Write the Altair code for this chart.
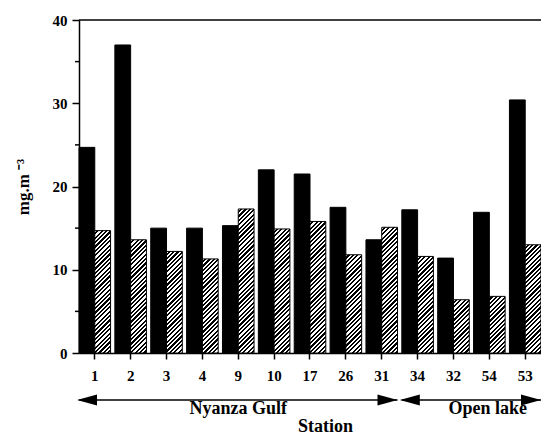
import altair as alt
import pandas as pd

# ---------------- data ----------------
stations = ["1", "2", "3", "4", "9", "10", "17", "26", "31", "34", "32", "54", "53"]
black_vals = [24.7, 37.0, 15.0, 15.0, 15.3, 22.0, 21.5, 17.5, 13.6, 17.2, 11.4, 16.9, 30.4]
hatched_vals = [14.7, 13.6, 12.2, 11.3, 17.3, 14.9, 15.8, 11.8, 15.1, 11.6, 6.4, 6.8, 13.0]
series_names = ["A", "B"]

regions = ["Nyanza Gulf", "Open lake"]
region_first = ["1", "34"]
region_last = ["31", "53"]
region_label_at = ["9", "54"]
region_label_band = [0.5, 0.45]

y_major = [0, 10, 20, 30, 40]
y_minor = [5, 15, 25, 35]
y_top = [40]

# ---------------- layout / style ----------------
W, H = 462, 333
YMAX = 40
PAD_INNER = 0.12
FONT = "Liberation Serif"
PERIOD = 4.4  # hatch period in px (along x+y)
ARROW_Y = 380
LABEL_Y = 394

n = len(stations)
df = pd.DataFrame({
    "station": stations * 2,
    "series": [series_names[0]] * n + [series_names[1]] * n,
    "value": black_vals + hatched_vals,
})

step = W / (n - PAD_INNER)
bar_w = step * (1 - PAD_INNER) / 2


def hatch(val):
    h = val / YMAX * H
    w = bar_w
    L = w + h
    k = L / (w * w + h * h)
    stops = []
    i = 0
    while i * PERIOD < L:
        a = round(i * PERIOD / L, 5)
        b = round(min((i + 0.5) * PERIOD / L, 1), 5)
        c = round(min((i + 1) * PERIOD / L, 1), 5)
        stops += [
            {"offset": a, "color": "#ffffff"},
            {"offset": b, "color": "#ffffff"},
            {"offset": b, "color": "#000000"},
            {"offset": c, "color": "#000000"},
        ]
        i += 1
    return {"gradient": "linear", "x1": 0, "y1": 0,
            "x2": round(k * w, 6), "y2": round(k * h, 6), "stops": stops}


conds = [{"test": "datum.series === 'A'", "value": "#000000"}]
for s, v in zip(stations, hatched_vals):
    conds.append({"test": f"datum.series === 'B' && datum.station === '{s}'",
                  "value": hatch(v)})
fill = {"condition": conds, "value": "#ffffff"}

xscale = alt.Scale(domain=stations, paddingInner=PAD_INNER, paddingOuter=0)
yscale = alt.Scale(domain=[0, YMAX], nice=False, zero=True)

x_axis = alt.Axis(title="Station", titleX=246, titleY=78,
                  titleBaseline="alphabetic", titleFont=FONT,
                  titleFontSize=18, titleFontWeight="bold",
                  titleColor="black", labelAngle=0, labelFont=FONT,
                  labelFontSize=15, labelFontWeight="bold",
                  labelColor="black", labelPadding=9, tickSize=6,
                  tickColor="black", tickWidth=1.5, domainColor="black",
                  domainWidth=1.5, grid=False)
y_axis = alt.Axis(values=y_major, title="mg.m ⁻³", titleFont=FONT,
                  titleFontSize=17, titleFontWeight="bold",
                  titleColor="black", titlePadding=20, labelFont=FONT,
                  labelFontSize=15, labelFontWeight="bold",
                  labelColor="black", labelPadding=5, tickSize=7,
                  tickColor="black", tickWidth=1.5, domainColor="black",
                  domainWidth=1.5, grid=False)

bars = alt.Chart(df).mark_bar(stroke="black", strokeWidth=1).encode(
    x=alt.X("station:N", sort=stations, scale=xscale, axis=x_axis),
    xOffset=alt.XOffset("series:N", scale=alt.Scale(domain=series_names,
                                                    paddingInner=0, paddingOuter=0)),
    y=alt.Y("value:Q", scale=yscale, axis=y_axis),
    fill=fill,
)

minor = alt.Chart(pd.DataFrame({"value": y_minor})).mark_rule(
    color="black", strokeWidth=1.5).encode(
    y=alt.Y("value:Q", scale=yscale, axis=y_axis),
    x=alt.value(-4), x2=alt.value(0))

top = alt.Chart(pd.DataFrame({"value": y_top})).mark_rule(
    color="black", strokeWidth=1.5).encode(
    y=alt.Y("value:Q", scale=yscale, axis=y_axis),
    x=alt.value(0), x2=alt.value(W))

rdf = pd.DataFrame({"region": regions, "station": region_first, "last": region_last})

line = alt.Chart(rdf).mark_rule(color="black", strokeWidth=1.5).encode(
    x=alt.X("station:N", scale=xscale, bandPosition=0, axis=x_axis),
    x2=alt.X2("last:N", bandPosition=1),
    y=alt.value(ARROW_Y))

lheads = alt.Chart(rdf).mark_point(
    shape="M0,0L2,-0.55L2,0.55Z", filled=True, size=400, color="black",
    opacity=1, strokeWidth=0, xOffset=-2).encode(
    x=alt.X("station:N", scale=xscale, bandPosition=0, axis=x_axis),
    y=alt.value(ARROW_Y))

rdf2 = pd.DataFrame({"region": regions, "station": region_last})
rheads = alt.Chart(rdf2).mark_point(
    shape="M0,0L-2,-0.55L-2,0.55Z", filled=True, size=400, color="black",
    opacity=1, strokeWidth=0).encode(
    x=alt.X("station:N", scale=xscale, bandPosition=1, axis=x_axis),
    y=alt.value(ARROW_Y))

labels = []
for reg, at, bp in zip(regions, region_label_at, region_label_band):
    labels.append(
        alt.Chart(pd.DataFrame({"region": [reg], "station": [at]})).mark_text(
            font=FONT, fontSize=18, fontWeight="bold", color="black",
            baseline="alphabetic", align="center").encode(
            x=alt.X("station:N", scale=xscale, bandPosition=bp, axis=x_axis),
            y=alt.value(LABEL_Y),
            text="region:N"))

chart = alt.layer(bars, minor, top, line, lheads, rheads, *labels).properties(
    width=W, height=H,
    autosize=alt.AutoSizeParams(type="none"),
    padding={"left": 71, "top": 12, "right": 0, "bottom": 84},
    background="white",
).configure_view(stroke=None)

chart.save("out.html", embed_options={"renderer": "svg", "actions": False})
